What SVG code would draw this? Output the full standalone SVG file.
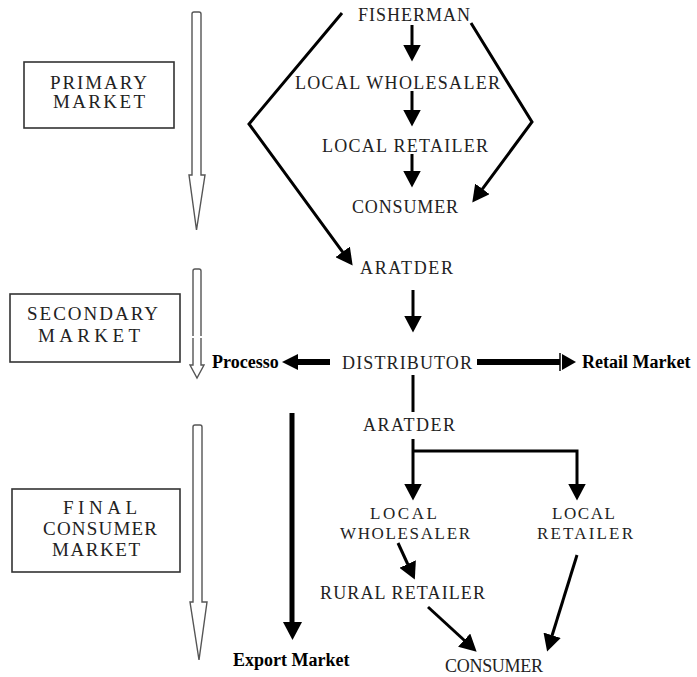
<svg xmlns="http://www.w3.org/2000/svg" width="697" height="677" viewBox="0 0 697 677">
<defs>
<style>
.n{font-family:"Liberation Serif","Times New Roman",serif;font-size:18px;fill:#222;}
.s{font-family:"Liberation Serif","Times New Roman",serif;font-size:17px;fill:#222;}
.m{font-family:"Liberation Serif","Times New Roman",serif;font-size:19px;fill:#222;}
.b{font-family:"Liberation Serif","Times New Roman",serif;font-size:18px;font-weight:bold;fill:#000;}
.box{fill:#fff;stroke:#333;stroke-width:1.6;}
.hol{fill:#fff;stroke:#555;stroke-width:1.4;stroke-linejoin:miter;}
.c{fill:none;stroke:#000;stroke-width:3;}
.tk{fill:none;stroke:#000;stroke-width:6;}
</style>
<marker id="ah" viewBox="0 0 17 18" markerWidth="17" markerHeight="18" refX="0.5" refY="9" orient="auto" markerUnits="userSpaceOnUse">
<path d="M0,0 L17,9 L0,18 Z" fill="#000"/>
</marker>
</defs>
<rect width="697" height="677" fill="#fff"/>

<g id="stage-arrows">
<path class="hol" d="M192,175 L192,14 Q192,12 194,12 L199,12 Q201,12 201,14 L201,175 L205,175 L196.5,230 L189,175 Z"/>
<path class="hol" d="M193,365 L193,271 Q193,269 195,269 L199,269 Q201,269 201,271 L201,365 L204,365 L197,378 L190,365 Z"/>
<line x1="192" y1="337" x2="202" y2="337" stroke="#fff" stroke-width="2"/>
<path class="hol" d="M193,602 L193,427 Q193,425 195,425 L200,425 Q202,425 202,427 L202,602 L207,602 L199,660 L190,602 Z"/>
</g>

<g id="primary-market">
<rect class="box" x="24" y="62" width="150" height="66"/>
<text class="m" x="50" y="89" textLength="97" lengthAdjust="spacing">PRIMARY</text>
<text class="m" x="53" y="108" textLength="92" lengthAdjust="spacing">MARKET</text>
</g>
<g id="secondary-market">
<rect class="box" x="10" y="294" width="170" height="68"/>
<text class="m" x="27" y="320" textLength="131" lengthAdjust="spacing">SECONDARY</text>
<text class="m" x="38" y="342" textLength="102" lengthAdjust="spacing">MARKET</text>
</g>
<g id="final-consumer-market">
<rect class="box" x="12" y="489" width="168" height="83"/>
<text class="m" x="63" y="514" textLength="74" lengthAdjust="spacing">FINAL</text>
<text class="m" x="43" y="535" textLength="114" lengthAdjust="spacing">CONSUMER</text>
<text class="m" x="52" y="556" textLength="88" lengthAdjust="spacing">MARKET</text>
</g>

<g id="fisherman"><text class="n" x="358" y="21" textLength="112" lengthAdjust="spacing">FISHERMAN</text></g>
<g id="local-wholesaler-1"><text class="n" x="295" y="89" textLength="205" lengthAdjust="spacing">LOCAL WHOLESALER</text></g>
<g id="local-retailer-1"><text class="n" x="322" y="152" textLength="166" lengthAdjust="spacing">LOCAL RETAILER</text></g>
<g id="consumer-1"><text class="n" x="352" y="213" textLength="106" lengthAdjust="spacing">CONSUMER</text></g>
<g id="aratder-1"><text class="n" x="360" y="274" textLength="93" lengthAdjust="spacing">ARATDER</text></g>
<g id="distributor"><text class="n" x="342" y="369" textLength="130" lengthAdjust="spacing">DISTRIBUTOR</text></g>
<g id="processo"><text class="b" x="212" y="368">Processo</text></g>
<g id="retail-market"><text class="b" x="582" y="368">Retail Market</text></g>
<g id="aratder-2"><text class="n" x="363" y="431" textLength="92" lengthAdjust="spacing">ARATDER</text></g>
<g id="local-wholesaler-2">
<text class="s" x="370" y="519" textLength="67" lengthAdjust="spacing">LOCAL</text>
<text class="s" x="340" y="539" textLength="130" lengthAdjust="spacing">WHOLESALER</text>
</g>
<g id="local-retailer-2">
<text class="s" x="552" y="519" textLength="63" lengthAdjust="spacing">LOCAL</text>
<text class="s" x="537" y="539" textLength="96" lengthAdjust="spacing">RETAILER</text>
</g>
<g id="rural-retailer"><text class="n" x="320" y="599" textLength="165" lengthAdjust="spacing">RURAL RETAILER</text></g>
<g id="consumer-2"><text class="n" x="445" y="672" textLength="98" lengthAdjust="spacing">CONSUMER</text></g>
<g id="export-market"><text class="b" x="233" y="666">Export Market</text></g>

<g id="connectors">
<line class="c" x1="412" y1="25" x2="412" y2="45" marker-end="url(#ah)"/>
<line class="c" x1="412" y1="91" x2="412" y2="110" marker-end="url(#ah)"/>
<line class="c" x1="412" y1="154" x2="412" y2="171" marker-end="url(#ah)"/>
<polyline class="c" points="342,13 249,124 342.9,252.3" marker-end="url(#ah)"/>
<polyline class="c" points="471,23 532,122 482.1,189.3" marker-end="url(#ah)"/>
<line class="c" x1="413" y1="290" x2="413" y2="316" marker-end="url(#ah)"/>
<line class="tk" x1="477" y1="362" x2="560" y2="362"/>
<line x1="560" y1="353" x2="560" y2="371" stroke="#000" stroke-width="1.5"/>
<path d="M562,354 L576,362 L562,370 Z" fill="#000"/>
<line class="tk" x1="297" y1="362" x2="330" y2="362"/>
<path d="M298,354 L282,362 L298,370 Z" fill="#000"/>
<line class="c" x1="413" y1="375" x2="413" y2="412"/>
<line x1="292" y1="413" x2="292" y2="623" stroke="#000" stroke-width="5"/>
<path d="M283,622 L302,622 L292.5,640 Z" fill="#000"/>
<line class="c" x1="413" y1="439" x2="413" y2="484" marker-end="url(#ah)"/>
<polyline class="c" points="413,451 577,451 577,484" marker-end="url(#ah)"/>
<line class="c" x1="398" y1="543" x2="407.9" y2="564.5" marker-end="url(#ah)"/>
<line class="c" x1="428" y1="607" x2="464.5" y2="640.5" marker-end="url(#ah)"/>
<line class="c" x1="577" y1="555" x2="552" y2="635.7" marker-end="url(#ah)"/>
</g>
</svg>
